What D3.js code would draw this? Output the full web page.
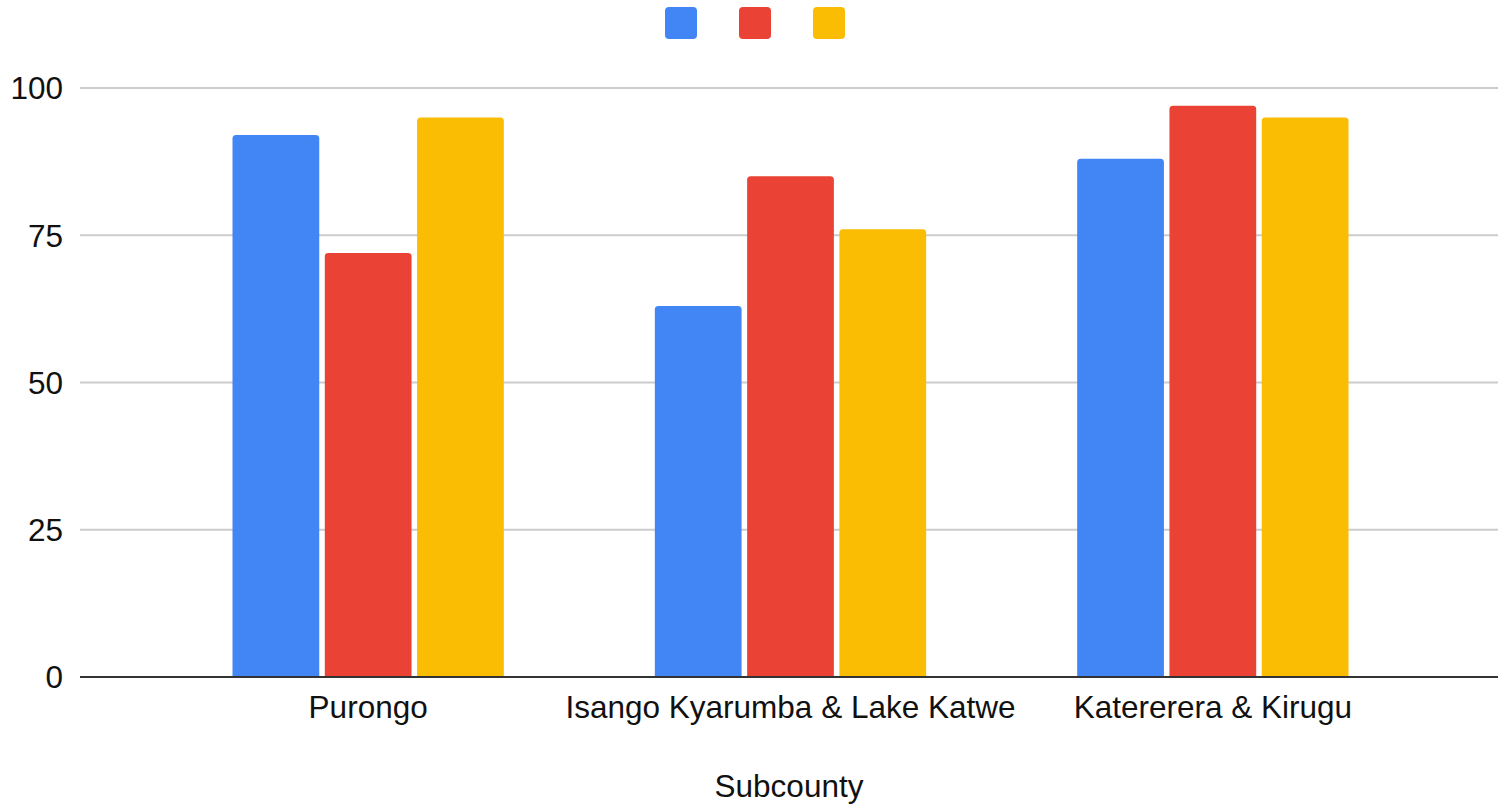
<!DOCTYPE html>
<html>
<head>
<meta charset="utf-8">
<script src="https://cdn.jsdelivr.net/npm/d3@7/dist/d3.min.js"></script>
<style>
  html, body { margin: 0; padding: 0; background: #fff; }
  svg { display: block; font-family: "Liberation Sans", Arial, sans-serif; }
</style>
</head>
<body>
<svg id="chart" width="1505" height="805"></svg>
<script>
// Subcounties on the x axis
const categories = ["Purongo", "Isango Kyarumba & Lake Katwe", "Katererera & Kirugu"];
// Three unnamed series, one value per subcounty
const seriesNames = ["", "", ""];
const series1 = [92, 63, 88];
const series2 = [72, 85, 97];
const series3 = [95, 76, 95];
const yTicks = [0, 25, 50, 75, 100];
const xTitle = "Subcounty";

const colors = ["#4285F4", "#EA4335", "#FBBC04"];
const allSeries = [series1, series2, series3];

const svg = d3.select("#chart");
const fontSize = 31.5;
const textColor = "#111";

const gridLeft = 80, gridRight = 1498;
const y = d3.scaleLinear().domain([0, 100]).range([677, 88]);

const x0 = d3.scaleBand().domain(categories).range([157, 1424]).paddingInner(0).paddingOuter(0);
const x1 = d3.scaleBand().domain(d3.range(allSeries.length))
  .range([75.5, x0.bandwidth() - 75.5]).paddingInner(0.06).paddingOuter(0);

// Horizontal gridlines
svg.append("g").selectAll("line")
  .data(yTicks.filter(t => t !== 0))
  .join("line")
  .attr("x1", gridLeft).attr("x2", gridRight)
  .attr("y1", d => y(d)).attr("y2", d => y(d))
  .attr("stroke", "#cccccc").attr("stroke-width", 2);

// Y tick labels
svg.append("g").selectAll("text")
  .data(yTicks)
  .join("text")
  .attr("x", 63).attr("y", d => y(d))
  .attr("dy", "0.36em")
  .attr("text-anchor", "end")
  .attr("font-size", fontSize)
  .attr("fill", textColor)
  .text(d => d);

// Bars with slightly rounded top corners
function barPath(x, yTop, w, yBase, r) {
  const rr = Math.min(r, w / 2, (yBase - yTop));
  return `M${x},${yBase}V${yTop + rr}Q${x},${yTop} ${x + rr},${yTop}H${x + w - rr}Q${x + w},${yTop} ${x + w},${yTop + rr}V${yBase}Z`;
}

const groups = svg.append("g").selectAll("g")
  .data(categories)
  .join("g")
  .attr("transform", d => `translate(${x0(d)},0)`);

groups.selectAll("path")
  .data((d, i) => allSeries.map((s, k) => ({ k, v: s[i] })))
  .join("path")
  .attr("fill", d => colors[d.k])
  .attr("d", d => barPath(x1(d.k), y(d.v), x1.bandwidth(), y(0), 3.5));

// Baseline
svg.append("line")
  .attr("x1", gridLeft).attr("x2", gridRight)
  .attr("y1", y(0)).attr("y2", y(0))
  .attr("stroke", "#333333").attr("stroke-width", 2);

// Category labels
svg.append("g").selectAll("text")
  .data(categories)
  .join("text")
  .attr("x", d => x0(d) + x0.bandwidth() / 2)
  .attr("y", 718)
  .attr("text-anchor", "middle")
  .attr("font-size", fontSize)
  .attr("fill", textColor)
  .text(d => d);

// Axis title
svg.append("text")
  .attr("x", 789).attr("y", 797)
  .attr("text-anchor", "middle")
  .attr("font-size", fontSize)
  .attr("fill", textColor)
  .text(xTitle);

// Legend swatches
const legend = svg.append("g").selectAll("g")
  .data(seriesNames)
  .join("g")
  .attr("transform", (d, i) => `translate(${665 + i * 74},7)`);
legend.append("rect")
  .attr("width", 32).attr("height", 32)
  .attr("rx", 4).attr("ry", 4)
  .attr("fill", (d, i) => colors[i]);
legend.append("text")
  .attr("x", 38).attr("y", 16).attr("dy", "0.36em")
  .attr("font-size", fontSize).attr("fill", textColor)
  .text(d => d);
</script>
</body>
</html>
